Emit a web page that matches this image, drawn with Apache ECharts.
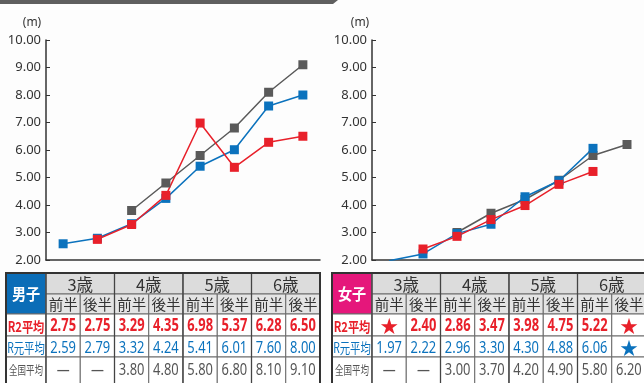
<!DOCTYPE html>
<html>
<head>
<meta charset="UTF-8">
<title></title>
<style>
  html, body { margin: 0; padding: 0; background: #fdfdfd; }
  #main { width: 644px; height: 383px; }
</style>
</head>
<body>
<div id="main"></div>
<script src="https://cdn.jsdelivr.net/npm/echarts@6/dist/echarts.min.js"></script>
<script>
// categories
var categories = ['3歳前半', '3歳後半', '4歳前半', '4歳後半', '5歳前半', '5歳後半', '6歳前半', '6歳後半'];
var ages = ['3歳', '4歳', '5歳', '6歳'];
var halves = ['前半', '後半'];
var rowLabels = ['R2平均', 'R元平均', '全国平均'];

// plotted values (m)
var boysR2 = [null, 2.75, 3.29, 4.35, 6.98, 5.37, 6.28, 6.50];
var boysR1 = [2.59, 2.79, 3.32, 4.24, 5.41, 6.01, 7.60, 8.00];
var boysNational = [null, null, 3.80, 4.80, 5.80, 6.80, 8.10, 9.10];
var girlsR2 = [null, 2.40, 2.86, 3.47, 3.98, 4.75, 5.22, null];
var girlsR1 = [1.97, 2.22, 2.96, 3.30, 4.30, 4.88, 6.06, null];
var girlsNational = [null, null, 3.00, 3.70, 4.20, 4.90, 5.80, 6.20];

// table texts
var boysR2Text = ['2.75', '2.75', '3.29', '4.35', '6.98', '5.37', '6.28', '6.50'];
var boysR1Text = ['2.59', '2.79', '3.32', '4.24', '5.41', '6.01', '7.60', '8.00'];
var boysNatText = ['—', '—', '3.80', '4.80', '5.80', '6.80', '8.10', '9.10'];
var girlsR2Text = ['★', '2.40', '2.86', '3.47', '3.98', '4.75', '5.22', '★'];
var girlsR1Text = ['1.97', '2.22', '2.96', '3.30', '4.30', '4.88', '6.06', '★'];
var girlsNatText = ['—', '—', '3.00', '3.70', '4.20', '4.90', '5.80', '6.20'];

var yMin = 2, yMax = 10, yStep = 1;

var RED = '#e8202a', BLUE = '#0b72bd', GRAY = '#5a5a5a';
var FONT = "'Noto Sans', 'Noto Sans CJK JP', sans-serif";
var JP = "'Noto Sans CJK JP', sans-serif";

var chart = echarts.init(document.getElementById('main'));

function rect(x, y, w, h, fill, stroke, lw) {
    return { type: 'rect', silent: true, shape: { x: x, y: y, width: w, height: h },
        style: { fill: fill, stroke: stroke || '#6a6a6a', lineWidth: lw || 1 } };
}
function txt(cx, cy, s, size, color, weight, sx, font) {
    return { type: 'text', silent: true, x: cx, y: cy, scaleX: sx || 1, z: 10,
        style: { text: s, fontSize: size, fill: color, fontWeight: weight || 'normal',
            fontFamily: font || FONT, align: 'center', verticalAlign: 'middle' } };
}

function buildTable(x0, sexLabel, sexColor, texts) {
    var els = [];
    var ys = [273, 294, 314, 336, 357, 392];
    var labelW = 40, colW = 34.25;
    var dx = x0 + labelW;
    var colors = [RED, BLUE, '#555'];
    var weights = ['bold', 'normal', 'normal'];

    els.push(rect(x0, ys[0], labelW, ys[2] - ys[0], sexColor));
    els.push(txt(x0 + labelW / 2, (ys[0] + ys[2]) / 2, sexLabel, 16, '#fff', 'bold', 0.88, JP));

    ages.forEach(function (a, i) {
        els.push(rect(dx + i * 2 * colW, ys[0], 2 * colW, ys[1] - ys[0], '#dcdcdc'));
        els.push(txt(dx + (i * 2 + 1) * colW, (ys[0] + ys[1]) / 2 + 1, a, 16.5, '#333', 'normal', 1, JP));
    });
    for (var c = 0; c < categories.length; c++) {
        els.push(rect(dx + c * colW, ys[1], colW, ys[2] - ys[1], '#e4e4e4'));
        els.push(txt(dx + (c + 0.5) * colW, (ys[1] + ys[2]) / 2, halves[c % 2], 14.5, '#333', 'normal', 1, JP));
    }
    for (var r = 0; r < 3; r++) {
        var y0 = ys[r + 2], h = ys[r + 3] - y0;
        var cy = r === 2 ? y0 + 13 : y0 + h / 2 + 1.5;
        els.push(rect(x0, y0, labelW, h, '#fff'));
        els.push(txt(x0 + labelW / 2, cy, rowLabels[r], r === 2 ? 12.5 : 14, colors[r],
            r === 0 ? 'bold' : 'normal', r === 2 ? 0.68 : (r === 1 ? 0.74 : 0.8), JP));
        for (var c2 = 0; c2 < categories.length; c2++) {
            var s = texts[r][c2];
            els.push(rect(dx + c2 * colW, y0, colW, h, '#fff'));
            if (s === '★') {
                els.push(txt(dx + (c2 + 0.5) * colW, cy, s, 18, colors[r], 'normal', 1, JP));
            } else {
                els.push(txt(dx + (c2 + 0.5) * colW, cy, s, 17, colors[r], weights[r], 0.76));
            }
        }
    }
    // heavier lines between ages and outer frame
    for (var i = 1; i < ages.length; i++) {
        var lx = dx + i * 2 * colW;
        els.push({ type: 'line', silent: true, z: 5, shape: { x1: lx, y1: ys[0], x2: lx, y2: ys[5] },
            style: { stroke: '#444', lineWidth: 1.3 } });
    }
    els.push({ type: 'line', silent: true, z: 5, shape: { x1: dx, y1: ys[0], x2: dx, y2: ys[5] },
        style: { stroke: '#444', lineWidth: 1.3 } });
    els.push({ type: 'rect', silent: true, z: 6, shape: { x: x0, y: ys[0], width: labelW + 8 * colW, height: ys[5] - ys[0] },
        style: { fill: 'none', stroke: '#333', lineWidth: 2 } });
    return els;
}

function lineSeries(name, data, color, xi, yi) {
    return {
        name: name, type: 'line', data: data, xAxisIndex: xi, yAxisIndex: yi,
        symbol: 'rect', symbolSize: 9, showAllSymbol: true,
        lineStyle: { color: color, width: 1.5 }, itemStyle: { color: color },
        emphasis: { disabled: true }, animation: false
    };
}

function xAxes(gi) {
    return [{
        gridIndex: gi, type: 'category', data: categories, boundaryGap: true, position: 'bottom',
        axisLine: { onZero: false, lineStyle: { color: '#333', width: 1.5 } },
        axisTick: { inside: true, length: 6, lineStyle: { color: '#333', width: 1.2 } },
        axisLabel: { show: false }
    }, {
        gridIndex: gi, type: 'category', data: ages, boundaryGap: true, position: 'bottom',
        axisLine: { show: false, onZero: false },
        axisTick: { inside: true, length: 13, lineStyle: { color: '#333', width: 1.2 } },
        axisLabel: { show: false }
    }];
}

function yAxis(gi) {
    return {
        gridIndex: gi, type: 'value', min: yMin, max: yMax, interval: yStep,
        axisLine: { show: true, lineStyle: { color: '#333', width: 1.5 } },
        axisTick: { show: true, inside: true, length: 4, lineStyle: { color: '#333' } },
        splitLine: { show: false },
        axisLabel: { color: '#333', fontSize: 13, margin: 5, fontFamily: FONT,
            formatter: function (v) { return v.toFixed(2); } }
    };
}

var graphics = [
    { type: 'polygon', silent: true, shape: { points: [[0, 0], [338, 0], [333, 4], [0, 4]] }, style: { fill: '#5f5f5f' } },
    txt(32, 23, '(m)', 12, '#333', 'normal', 1, FONT),
    txt(360, 23, '(m)', 12, '#333', 'normal', 1, FONT)
].concat(
    buildTable(6, '男子', '#0b6db7', [boysR2Text, boysR1Text, boysNatText]),
    buildTable(332, '女子', '#e5177b', [girlsR2Text, girlsR1Text, girlsNatText])
);

chart.setOption({
    backgroundColor: '#fdfdfd',
    textStyle: { fontFamily: FONT },
    animation: false,
    grid: [
        { left: 46, top: 40, width: 274, height: 220 },
        { left: 372, top: 40, width: 274, height: 220 }
    ],
    xAxis: xAxes(0).concat(xAxes(1)),
    yAxis: [yAxis(0), yAxis(1)],
    series: [
        lineSeries('全国平均', boysNational, GRAY, 0, 0),
        lineSeries('R元平均', boysR1, BLUE, 0, 0),
        lineSeries('R2平均', boysR2, RED, 0, 0),
        lineSeries('全国平均', girlsNational, GRAY, 2, 1),
        lineSeries('R元平均', girlsR1, BLUE, 2, 1),
        lineSeries('R2平均', girlsR2, RED, 2, 1)
    ],
    graphic: graphics
});
</script>
</body>
</html>
